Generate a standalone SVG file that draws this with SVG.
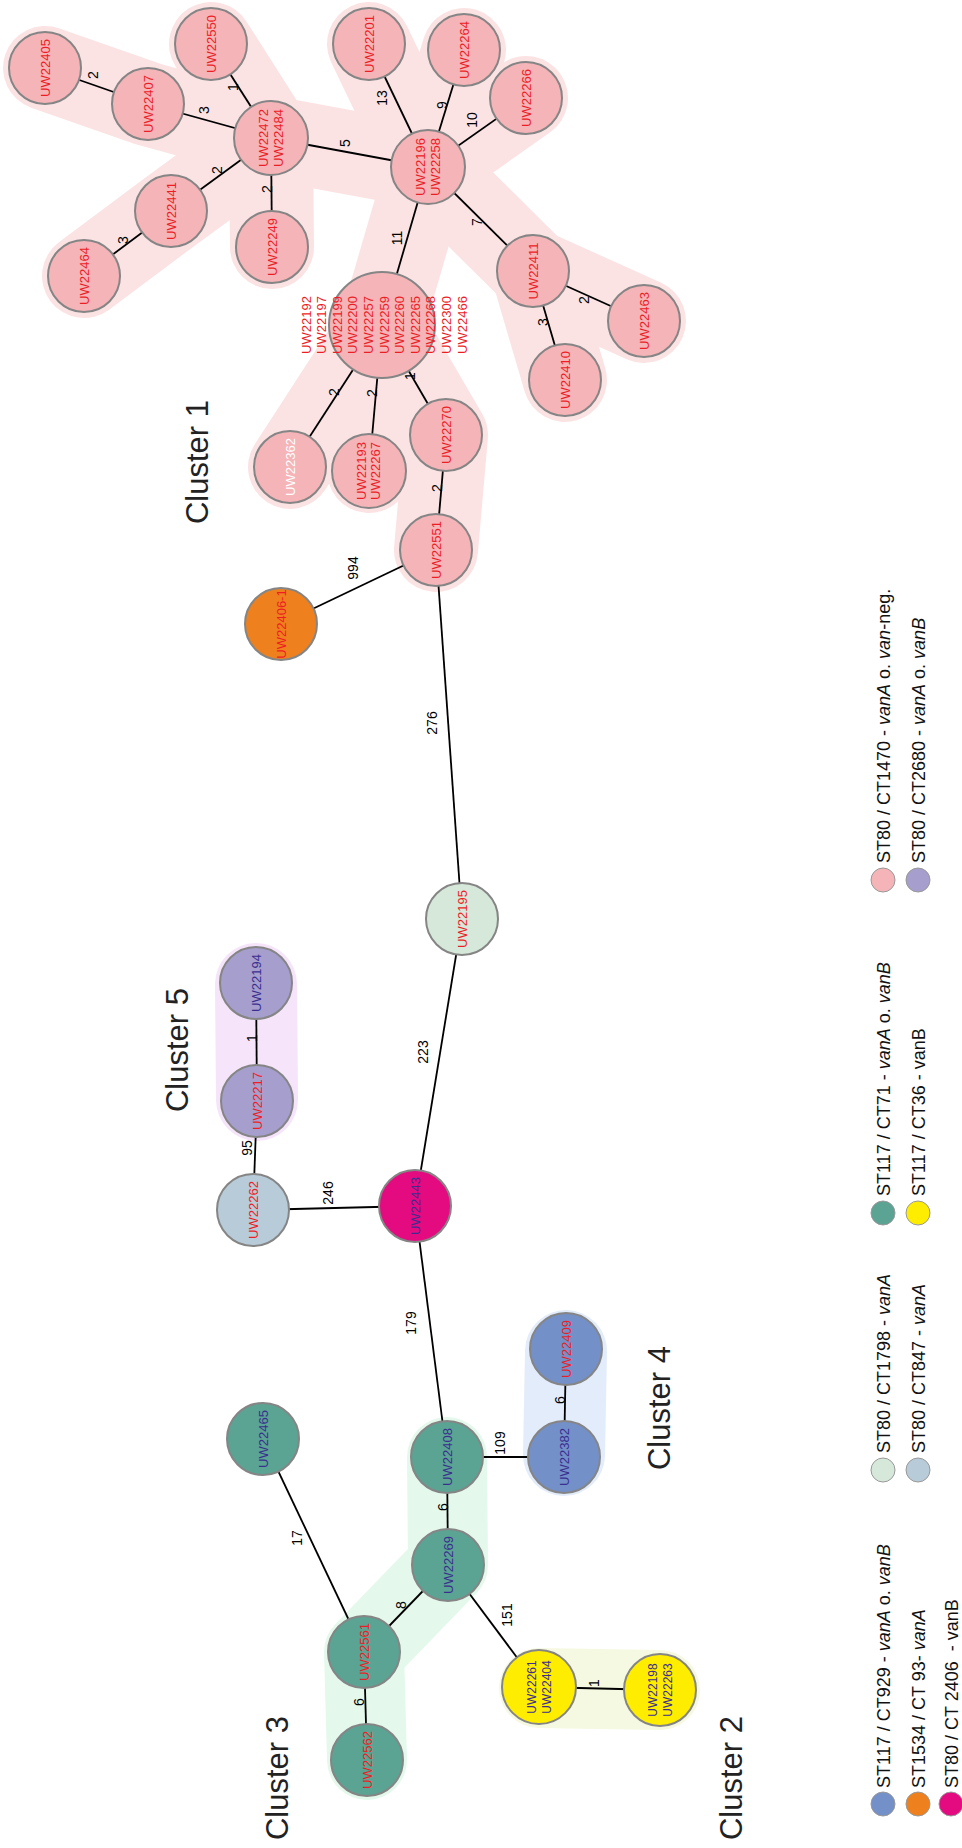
<svg xmlns="http://www.w3.org/2000/svg" width="962" height="1848" viewBox="0 0 962 1848">
<style>
  .hull{fill:none;stroke-linecap:round;stroke-linejoin:round;stroke-width:84}
  .h1{stroke:#FBE3E4}
  .h2{stroke:#F6F9E1;stroke-width:80}
  .h3{stroke:#E4F9EC;stroke-width:80}
  .h4{stroke:#E3ECFA;stroke-width:82}
  .h5{stroke:#F5E4FA;stroke-width:82}
  .edge{stroke:#000;stroke-width:1.8;fill:none}
  .node{stroke:#858585;stroke-width:2}
  .pk{fill:#F4B4B8}.tl{fill:#5BA393}.bl{fill:#7490C8}.pu{fill:#A69ECC}
  .mg{fill:#E40A80}.or{fill:#EE811D}.ye{fill:#FFED00}.pg{fill:#D6E8D9}.gb{fill:#B8CBD8}
  text{font-family:"Liberation Sans",Arial,sans-serif}
  .nl{font-size:13px;text-anchor:middle;fill:#EE1C25}
  .nb{fill:#3A2F8F}
  .nw{fill:#FFFFFF}
  .ys{font-size:12px}
  .el{font-size:14px;text-anchor:middle;fill:#000}
  .cl{font-size:31px;text-anchor:middle;fill:#222}
  .lg{font-size:18px;fill:#111}
  .lc{stroke:#999;stroke-width:1}
  .it{font-style:italic}
</style>

<!-- cluster hulls -->
<g id="clusters">
  <g id="cluster1-hull" class="hull h1">
    <polyline points="45,68 148,104 271,138"/>
    <polyline points="211,44 271,138"/>
    <polyline points="84,276 171,211 271,138"/>
    <polyline points="272,247 271,138"/>
    <polyline points="271,138 428,167"/>
    <polyline points="369,44 428,167"/>
    <polyline points="464,50 428,167"/>
    <polyline points="526,98 428,167"/>
    <polyline points="428,167 533,271 644,321"/>
    <polyline points="533,271 565,380"/>
    <polyline points="428,167 382,325"/>
    <polyline points="382,325 290,467"/>
    <polyline points="382,325 369,471"/>
    <polyline points="382,325 446,435 436,550"/>
  </g>
  <polyline id="cluster2-hull" class="hull h2" points="539,1688 660,1690"/>
  <polyline id="cluster3-hull" class="hull h3" points="447,1457 448,1565 364,1652 367,1760"/>
  <polyline id="cluster4-hull" class="hull h4" points="566,1351 564,1455"/>
  <polyline id="cluster5-hull" class="hull h5" points="256,984 257,1100"/>
</g>

<!-- connectors -->
<g id="connectors" class="edge">
  <line x1="45" y1="68" x2="148" y2="104"/>
  <line x1="148" y1="104" x2="271" y2="138"/>
  <line x1="211" y1="44" x2="271" y2="138"/>
  <line x1="171" y1="211" x2="271" y2="138"/>
  <line x1="84" y1="276" x2="171" y2="211"/>
  <line x1="272" y1="247" x2="271" y2="138"/>
  <line x1="271" y1="138" x2="428" y2="167"/>
  <line x1="369" y1="44" x2="428" y2="167"/>
  <line x1="464" y1="50" x2="428" y2="167"/>
  <line x1="526" y1="98" x2="428" y2="167"/>
  <line x1="533" y1="271" x2="428" y2="167"/>
  <line x1="382" y1="325" x2="428" y2="167"/>
  <line x1="533" y1="271" x2="644" y2="321"/>
  <line x1="533" y1="271" x2="565" y2="380"/>
  <line x1="382" y1="325" x2="290" y2="467"/>
  <line x1="382" y1="325" x2="369" y2="471"/>
  <line x1="382" y1="325" x2="446" y2="435"/>
  <line x1="446" y1="435" x2="436" y2="550"/>
  <line x1="436" y1="550" x2="281" y2="624"/>
  <line x1="436" y1="550" x2="462" y2="919"/>
  <line x1="462" y1="919" x2="415" y2="1206"/>
  <line x1="256" y1="983" x2="257" y2="1101"/>
  <line x1="257" y1="1101" x2="253" y2="1210"/>
  <line x1="253" y1="1210" x2="415" y2="1206"/>
  <line x1="415" y1="1206" x2="447" y2="1457"/>
  <line x1="447" y1="1457" x2="564" y2="1457"/>
  <line x1="564" y1="1457" x2="566" y2="1349"/>
  <line x1="447" y1="1457" x2="448" y2="1565"/>
  <line x1="448" y1="1565" x2="364" y2="1652"/>
  <line x1="364" y1="1652" x2="263" y2="1439"/>
  <line x1="364" y1="1652" x2="367" y2="1760"/>
  <line x1="448" y1="1565" x2="539" y2="1687"/>
  <line x1="539" y1="1687" x2="660" y2="1690"/>
</g>

<!-- connector labels -->
<g id="connector-labels" class="el">
  <text transform="translate(93,75) rotate(-90)" y="5">2</text>
  <text transform="translate(204,110) rotate(-90)" y="5">3</text>
  <text transform="translate(233,87) rotate(-90)" y="5">1</text>
  <text transform="translate(217,170) rotate(-90)" y="5">2</text>
  <text transform="translate(123,240) rotate(-90)" y="5">3</text>
  <text transform="translate(267,189) rotate(-90)" y="5">2</text>
  <text transform="translate(345,143) rotate(-90)" y="5">5</text>
  <text transform="translate(382,98) rotate(-90)" y="5">13</text>
  <text transform="translate(442,105) rotate(-90)" y="5">9</text>
  <text transform="translate(472,120) rotate(-90)" y="5">10</text>
  <text transform="translate(477,222) rotate(-90)" y="5">7</text>
  <text transform="translate(397,238) rotate(-90)" y="5">11</text>
  <text transform="translate(584,300) rotate(-90)" y="5">2</text>
  <text transform="translate(543,322) rotate(-90)" y="5">3</text>
  <text transform="translate(334,392) rotate(-90)" y="5">2</text>
  <text transform="translate(372,393) rotate(-90)" y="5">2</text>
  <text transform="translate(410,376) rotate(-90)" y="5">1</text>
  <text transform="translate(437,488) rotate(-90)" y="5">2</text>
  <text transform="translate(353,568) rotate(-90)" y="5">994</text>
  <text transform="translate(432,723) rotate(-90)" y="5">276</text>
  <text transform="translate(423,1052) rotate(-90)" y="5">223</text>
  <text transform="translate(252,1038) rotate(-90)" y="5">1</text>
  <text transform="translate(247,1148) rotate(-90)" y="5">95</text>
  <text transform="translate(328,1193) rotate(-90)" y="5">246</text>
  <text transform="translate(411,1323) rotate(-90)" y="5">179</text>
  <text transform="translate(500,1443) rotate(-90)" y="5">109</text>
  <text transform="translate(560,1400) rotate(-90)" y="5">6</text>
  <text transform="translate(443,1507) rotate(-90)" y="5">6</text>
  <text transform="translate(401,1605) rotate(-90)" y="5">8</text>
  <text transform="translate(297,1538) rotate(-90)" y="5">17</text>
  <text transform="translate(359,1702) rotate(-90)" y="5">6</text>
  <text transform="translate(507,1615) rotate(-90)" y="5">151</text>
  <text transform="translate(594,1683) rotate(-90)" y="5">1</text>
</g>

<!-- cluster 1 nodes -->
<g id="n-UW22405"><circle class="node pk" cx="45" cy="68" r="36"/><text class="nl" transform="translate(45,68) rotate(-90)" y="4.5">UW22405</text></g>
<g id="n-UW22407"><circle class="node pk" cx="148" cy="104" r="36"/><text class="nl" transform="translate(148,104) rotate(-90)" y="4.5">UW22407</text></g>
<g id="n-UW22550"><circle class="node pk" cx="211" cy="44" r="36"/><text class="nl" transform="translate(211,44) rotate(-90)" y="4.5">UW22550</text></g>
<g id="n-UW22472"><circle class="node pk" cx="271" cy="138" r="37"/><text class="nl" transform="translate(271,138) rotate(-90)"><tspan x="0" y="-3">UW22472</tspan><tspan x="0" y="12">UW22484</tspan></text></g>
<g id="n-UW22441"><circle class="node pk" cx="171" cy="211" r="36"/><text class="nl" transform="translate(171,211) rotate(-90)" y="4.5">UW22441</text></g>
<g id="n-UW22464"><circle class="node pk" cx="84" cy="276" r="36"/><text class="nl" transform="translate(84,276) rotate(-90)" y="4.5">UW22464</text></g>
<g id="n-UW22249"><circle class="node pk" cx="272" cy="247" r="36"/><text class="nl" transform="translate(272,247) rotate(-90)" y="4.5">UW22249</text></g>
<g id="n-UW22201"><circle class="node pk" cx="369" cy="44" r="36"/><text class="nl" transform="translate(369,44) rotate(-90)" y="4.5">UW22201</text></g>
<g id="n-UW22264"><circle class="node pk" cx="464" cy="50" r="36"/><text class="nl" transform="translate(464,50) rotate(-90)" y="4.5">UW22264</text></g>
<g id="n-UW22266"><circle class="node pk" cx="526" cy="98" r="36"/><text class="nl" transform="translate(526,98) rotate(-90)" y="4.5">UW22266</text></g>
<g id="n-UW22196"><circle class="node pk" cx="428" cy="167" r="37"/><text class="nl" transform="translate(428,167) rotate(-90)"><tspan x="0" y="-3">UW22196</tspan><tspan x="0" y="12">UW22258</tspan></text></g>
<g id="n-UW22411"><circle class="node pk" cx="533" cy="271" r="36"/><text class="nl" transform="translate(533,271) rotate(-90)" y="4.5">UW22411</text></g>
<g id="n-UW22463"><circle class="node pk" cx="644" cy="321" r="36"/><text class="nl" transform="translate(644,321) rotate(-90)" y="4.5">UW22463</text></g>
<g id="n-UW22410"><circle class="node pk" cx="565" cy="380" r="36"/><text class="nl" transform="translate(565,380) rotate(-90)" y="4.5">UW22410</text></g>
<g id="n-UW22192"><circle class="node pk" cx="382" cy="325" r="53"/>
  <text class="nl" transform="translate(384,325) rotate(-90)">
    <tspan x="0" y="-73.5">UW22192</tspan><tspan x="0" y="-57.9">UW22197</tspan><tspan x="0" y="-42.3">UW22199</tspan><tspan x="0" y="-26.7">UW22200</tspan><tspan x="0" y="-11.1">UW22257</tspan><tspan x="0" y="4.5">UW22259</tspan><tspan x="0" y="20.1">UW22260</tspan><tspan x="0" y="35.7">UW22265</tspan><tspan x="0" y="51.3">UW22268</tspan><tspan x="0" y="66.9">UW22300</tspan><tspan x="0" y="82.5">UW22466</tspan>
  </text></g>
<g id="n-UW22362"><circle class="node pk" cx="290" cy="467" r="36"/><text class="nl nw" transform="translate(290,467) rotate(-90)" y="4.5">UW22362</text></g>
<g id="n-UW22193"><circle class="node pk" cx="369" cy="471" r="37"/><text class="nl" transform="translate(369,471) rotate(-90)"><tspan x="0" y="-3">UW22193</tspan><tspan x="0" y="11">UW22267</tspan></text></g>
<g id="n-UW22270"><circle class="node pk" cx="446" cy="435" r="36"/><text class="nl" transform="translate(446,435) rotate(-90)" y="4.5">UW22270</text></g>
<g id="n-UW22551"><circle class="node pk" cx="436" cy="550" r="36"/><text class="nl" transform="translate(436,550) rotate(-90)" y="4.5">UW22551</text></g>

<!-- other nodes -->
<g id="n-UW22406-1"><circle class="node or" cx="281" cy="624" r="36"/><text class="nl" transform="translate(281,624) rotate(-90)" y="4.5">UW22406-1</text></g>
<g id="n-UW22195"><circle class="node pg" cx="462" cy="919" r="36"/><text class="nl" transform="translate(462,919) rotate(-90)" y="4.5">UW22195</text></g>
<g id="n-UW22194"><circle class="node pu" cx="256" cy="983" r="36"/><text class="nl nb" transform="translate(256,983) rotate(-90)" y="4.5">UW22194</text></g>
<g id="n-UW22217"><circle class="node pu" cx="257" cy="1101" r="36"/><text class="nl" transform="translate(257,1101) rotate(-90)" y="4.5">UW22217</text></g>
<g id="n-UW22262"><circle class="node gb" cx="253" cy="1210" r="36"/><text class="nl" transform="translate(253,1210) rotate(-90)" y="4.5">UW22262</text></g>
<g id="n-UW22443"><circle class="node mg" cx="415" cy="1206" r="36"/><text class="nl nb" transform="translate(415,1206) rotate(-90)" y="4.5">UW22443</text></g>
<g id="n-UW22465"><circle class="node tl" cx="263" cy="1439" r="36"/><text class="nl nb" transform="translate(263,1439) rotate(-90)" y="4.5">UW22465</text></g>
<g id="n-UW22408"><circle class="node tl" cx="447" cy="1457" r="36"/><text class="nl nb" transform="translate(447,1457) rotate(-90)" y="4.5">UW22408</text></g>
<g id="n-UW22382"><circle class="node bl" cx="564" cy="1457" r="36"/><text class="nl nb" transform="translate(564,1457) rotate(-90)" y="4.5">UW22382</text></g>
<g id="n-UW22409"><circle class="node bl" cx="566" cy="1349" r="36"/><text class="nl" transform="translate(566,1349) rotate(-90)" y="4.5">UW22409</text></g>
<g id="n-UW22269"><circle class="node tl" cx="448" cy="1565" r="36"/><text class="nl nb" transform="translate(448,1565) rotate(-90)" y="4.5">UW22269</text></g>
<g id="n-UW22561"><circle class="node tl" cx="364" cy="1652" r="36"/><text class="nl" transform="translate(364,1652) rotate(-90)" y="4.5">UW22561</text></g>
<g id="n-UW22562"><circle class="node tl" cx="367" cy="1760" r="36"/><text class="nl" transform="translate(367,1760) rotate(-90)" y="4.5">UW22562</text></g>
<g id="n-UW22261"><circle class="node ye" cx="539" cy="1687" r="37"/><text class="nl nb ys" transform="translate(539,1687) rotate(-90)"><tspan x="0" y="-3">UW22261</tspan><tspan x="0" y="12">UW22404</tspan></text></g>
<g id="n-UW22198"><circle class="node ye" cx="660" cy="1690" r="36"/><text class="nl nb ys" transform="translate(660,1690) rotate(-90)"><tspan x="0" y="-3">UW22198</tspan><tspan x="0" y="12">UW22263</tspan></text></g>

<!-- cluster titles -->
<g id="cluster-titles" class="cl">
  <text transform="translate(208,462) rotate(-90)">Cluster 1</text>
  <text transform="translate(742,1778) rotate(-90)">Cluster 2</text>
  <text transform="translate(288,1778) rotate(-90)">Cluster 3</text>
  <text transform="translate(670,1408) rotate(-90)">Cluster 4</text>
  <text transform="translate(188,1050) rotate(-90)">Cluster 5</text>
</g>

<!-- legend -->
<g id="legend" class="lg">
  <circle class="lc" cx="883" cy="1804" r="12" fill="#7490C8"/>
  <text transform="translate(889.5,1788) rotate(-90)">ST117 / CT929 - <tspan class="it">vanA</tspan> o. <tspan class="it">vanB</tspan></text>
  <circle class="lc" cx="918" cy="1804" r="12" fill="#EE811D"/>
  <text transform="translate(924.5,1788) rotate(-90)">ST1534 / CT 93- <tspan class="it">vanA</tspan></text>
  <circle class="lc" cx="951" cy="1804" r="12" fill="#E40A80"/>
  <text transform="translate(957.5,1788) rotate(-90)">ST80 / CT 2406 &#160;- vanB</text>

  <circle class="lc" cx="883" cy="1470" r="12" fill="#D6E8D9"/>
  <text transform="translate(889.5,1453) rotate(-90)">ST80 / CT1798 - <tspan class="it">vanA</tspan></text>
  <circle class="lc" cx="918" cy="1470" r="12" fill="#B8CBD8"/>
  <text transform="translate(924.5,1453) rotate(-90)">ST80 / CT847 - <tspan class="it">vanA</tspan></text>

  <circle class="lc" cx="883" cy="1213" r="12" fill="#5BA393"/>
  <text transform="translate(889.5,1196) rotate(-90)">ST117 / CT71 - <tspan class="it">vanA</tspan> o. <tspan class="it">vanB</tspan></text>
  <circle class="lc" cx="918" cy="1213" r="12" fill="#FFED00"/>
  <text transform="translate(924.5,1196) rotate(-90)">ST117 / CT36 - vanB</text>

  <circle class="lc" cx="883" cy="880" r="12" fill="#F4B4B8"/>
  <text transform="translate(889.5,863) rotate(-90)">ST80 / CT1470 - <tspan class="it">vanA</tspan> o. <tspan class="it">van</tspan>-neg.</text>
  <circle class="lc" cx="918" cy="880" r="12" fill="#A69ECC"/>
  <text transform="translate(924.5,863) rotate(-90)">ST80 / CT2680 - <tspan class="it">vanA</tspan> o. <tspan class="it">vanB</tspan></text>
</g>
</svg>
